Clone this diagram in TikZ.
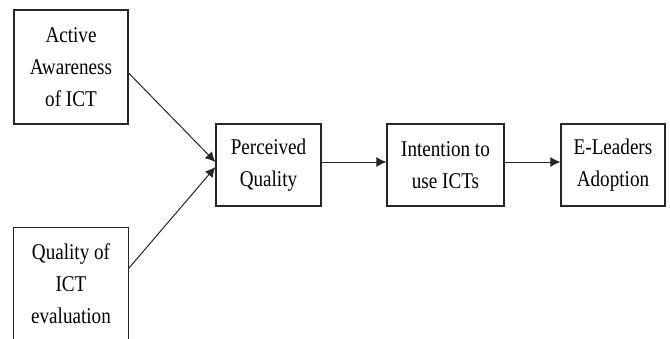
\documentclass[tikz,border=0pt]{standalone}
\usepackage{fontspec}
\setmainfont{Liberation Serif}[FakeStretch=0.85]
\usetikzlibrary{arrows.meta}
\begin{document}
\begin{tikzpicture}[x=1pt,y=-1pt,
  boxline/.style={draw=black!85,line width=1.2pt},
  box/.style={boxline,rectangle,inner sep=0pt,align=center,
    font=\fontsize{22.5}{32}\selectfont},
  conn/.style={draw=black!85,line width=1pt,-{Latex[length=10pt,width=10pt]}}]
\useasboundingbox (0,0) rectangle (670,338);
\node[box,minimum width=114pt,minimum height=114pt] (aa) at (71,67) {Active\\Awareness\\of ICT};
\node[box,draw=none,minimum width=114pt,minimum height=111pt] (qe) at (71,283.5) {Quality of\\ICT\\evaluation};
\draw[boxline] ([yshift=-1pt]qe.south west) -- (qe.north west) -- (qe.north east) -- ([yshift=-1pt]qe.south east);
\node[box,minimum width=105pt,minimum height=82pt] (pq) at (268.5,165) {Perceived\\Quality};
\node[box,minimum width=117pt,minimum height=82pt] (it) at (445.5,165) {Intention to\\use ICTs};
\node[box,minimum width=104pt,minimum height=82pt] (el) at (613,165) {E-Leaders\\Adoption};
\draw[conn] ([yshift=-6pt]aa.east) -- ([yshift=3pt]pq.west);
\draw[conn] ([yshift=15pt]qe.east) -- ([yshift=-2pt]pq.west);
\draw[conn] ([yshift=3pt]pq.east) -- ([yshift=3pt]it.west);
\draw[conn] ([yshift=3pt]it.east) -- ([yshift=3pt]el.west);
\end{tikzpicture}
\end{document}
